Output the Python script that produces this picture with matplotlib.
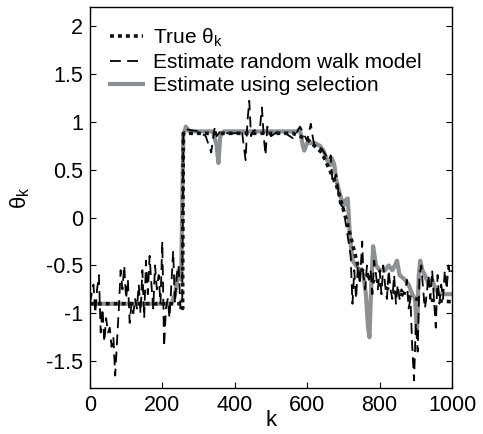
import matplotlib.pyplot as plt
import numpy as np

plt.rcParams['font.family'] = ['Liberation Sans', 'DejaVu Sans']
plt.rcParams['mathtext.fontset'] = 'custom'
plt.rcParams['mathtext.rm'] = 'Liberation Sans'
plt.rcParams['mathtext.it'] = 'Liberation Sans'

# true parameter
true_k = [0, 255, 256, 258, 560, 600, 640, 680, 710, 740, 780, 840, 900, 1000]
true_v = [-0.9, -0.9, -0.95, 0.88, 0.88, 0.82, 0.68, 0.35, -0.05, -0.5, -0.66, -0.78, -0.85, -0.88]

# random walk estimate
rw_k = [0, 5, 10, 15, 20, 25, 30, 35, 40, 45, 50, 55, 60, 65, 70, 75, 80, 85, 90, 95,
        100, 105, 110, 115, 120, 125, 130, 135, 140, 145, 150, 155, 160, 165, 170, 175,
        180, 185, 190, 195, 200, 205, 210, 215, 220, 225, 230, 235, 240, 245, 250, 255,
        258, 270, 300, 320, 335, 345, 350, 360, 380, 400, 420, 430, 435, 440, 445, 450,
        470, 475, 480, 485, 490, 500, 520, 540, 560, 570, 580, 590, 600, 610, 615, 620,
        640, 660, 665, 670, 680, 690, 700, 710, 720, 725, 730, 735, 740, 745, 752, 755,
        760, 765, 770, 775, 780, 785, 790, 795, 800, 805, 810, 815, 820, 825, 830, 835,
        840, 845, 850, 855, 860, 870, 875, 880, 885, 890, 895, 900, 905, 910, 915, 920,
        925, 930, 935, 940, 945, 950, 955, 960, 965, 970, 975, 980, 985, 990, 995, 1000]
rw_v = [-0.9, -0.8, -0.7, -1.0, -0.75, -0.6, -1.2, -0.95, -1.3, -1.05, -1.2, -1.15,
        -1.35, -1.25, -1.65, -1.3, -0.95, -0.55, -0.75, -0.5, -0.85, -0.65, -1.1, -0.9,
        -1.0, -0.85, -0.95, -0.7, -1.0, -0.55, -1.05, -0.45, -0.8, -0.4, -0.7, -0.95,
        -0.5, -0.75, -0.6, -0.9, -0.25, -1.35, -0.95, -0.85, -1.05, -0.7, -0.35, -0.9,
        -0.6, -0.5, -0.95, -0.9,
        0.88, 0.92, 0.9, 0.85, 0.68, 0.95, 0.85, 0.9, 0.88, 0.88, 0.9, 0.6, 1.0, 1.22,
        0.85, 0.9, 0.95, 1.15, 0.85, 0.65, 0.95, 0.85, 0.9, 0.88, 0.83, 0.88, 0.95, 0.88,
        0.8, 0.98, 0.85, 0.75, 0.72, 0.6, 0.65, 0.35, 0.45, 0.15, 0.1, -0.15, -0.4,
        -0.9, -0.55, -0.85, -0.5, -0.7, -0.25, -0.6, -0.75, -0.5, -0.65, -0.55, -0.8,
        -0.45, -0.6, -0.75, -0.55, -0.8, -0.5, -0.7, -0.85, -0.55, -0.75, -0.85, -0.6,
        -0.9, -0.7, -0.85, -0.75, -0.8, -0.65, -0.95, -0.85, -1.35, -1.7, -1.1, -1.4,
        -0.6, -0.5, -0.75, -0.95, -0.8, -0.6, -0.85, -0.55, -0.85, -1.15, -0.6, -0.9,
        -0.7, -0.85, -0.55, -0.75, -0.5, -0.6, -0.55]

# estimate using selection
sel_k = [0, 225, 235, 245, 252, 258, 265, 275, 340, 350, 355, 360, 370, 570, 580, 588,
         592, 600, 620, 635, 645, 655, 660, 665, 668, 675, 680, 690, 700, 705, 712, 718,
         725, 735, 745, 755, 762, 768, 772, 776, 782, 790, 800, 815, 825, 835, 842, 848,
         855, 870, 880, 890, 898, 903, 908, 912, 918, 925, 935, 945, 955, 965, 980, 1000]
sel_v = [-0.9, -0.9, -0.8, -0.55, -0.65, 0.85, 0.95, 0.9, 0.9, 0.75, 0.57, 0.85, 0.9,
         0.9, 0.92, 0.75, 0.7, 0.78, 0.78, 0.75, 0.7, 0.6, 0.57, 0.55, 0.62, 0.55, 0.4,
         0.25, 0.12, 0.18, 0.2, -0.2, -0.45, -0.5, -0.55, -0.6, -0.8, -1.15, -1.25, -0.8,
         -0.3, -0.5, -0.55, -0.55, -0.5, -0.55, -0.5, -0.45, -0.6, -0.65, -0.7, -0.8,
         -0.85, -1.2, -0.6, -0.45, -0.55, -0.6, -0.7, -0.65, -0.75, -0.8, -0.8, -0.8]

fig = plt.figure(figsize=(4.83, 4.34), dpi=100)
ax = fig.add_axes([0.186, 0.106, 0.750, 0.878])

h_sel, = ax.plot(sel_k, sel_v, color='#8c9196', lw=3.0, solid_joinstyle='round')
h_rw, = ax.plot(rw_k, rw_v, color='black', lw=1.3, dashes=(6, 3.5))
h_true, = ax.plot(true_k, true_v, color='#111111', lw=2.6, dashes=(1.1, 1.1))

ax.legend([h_true, h_rw, h_sel],
          [r'True $\theta_\mathregular{k}$', 'Estimate random walk model', 'Estimate using selection'],
          loc='upper left', frameon=False, fontsize=15, handlelength=1.6,
          handletextpad=0.5, labelspacing=0.2, borderaxespad=0.55,
          bbox_to_anchor=(0.0, 1.0))

ax.set_xlim(0, 1000)
ax.set_ylim(-1.78, 2.2)
ax.set_xticks([0, 200, 400, 600, 800, 1000])
ax.set_yticks([-1.5, -1, -0.5, 0, 0.5, 1, 1.5, 2])
ax.set_yticklabels(['-1.5', '-1', '-0.5', '0', '0.5', '1', '1.5', '2'])
ax.tick_params(direction='in', right=True, top=False, labelsize=15.5, length=4, pad=5)
ax.set_xlabel('k', fontsize=16, labelpad=-4)
ax.set_ylabel(r'$\theta_\mathregular{k}$', fontsize=16, labelpad=10)
for s in ax.spines.values():
    s.set_linewidth(1.0)

fig.savefig('out.png', dpi=100)
